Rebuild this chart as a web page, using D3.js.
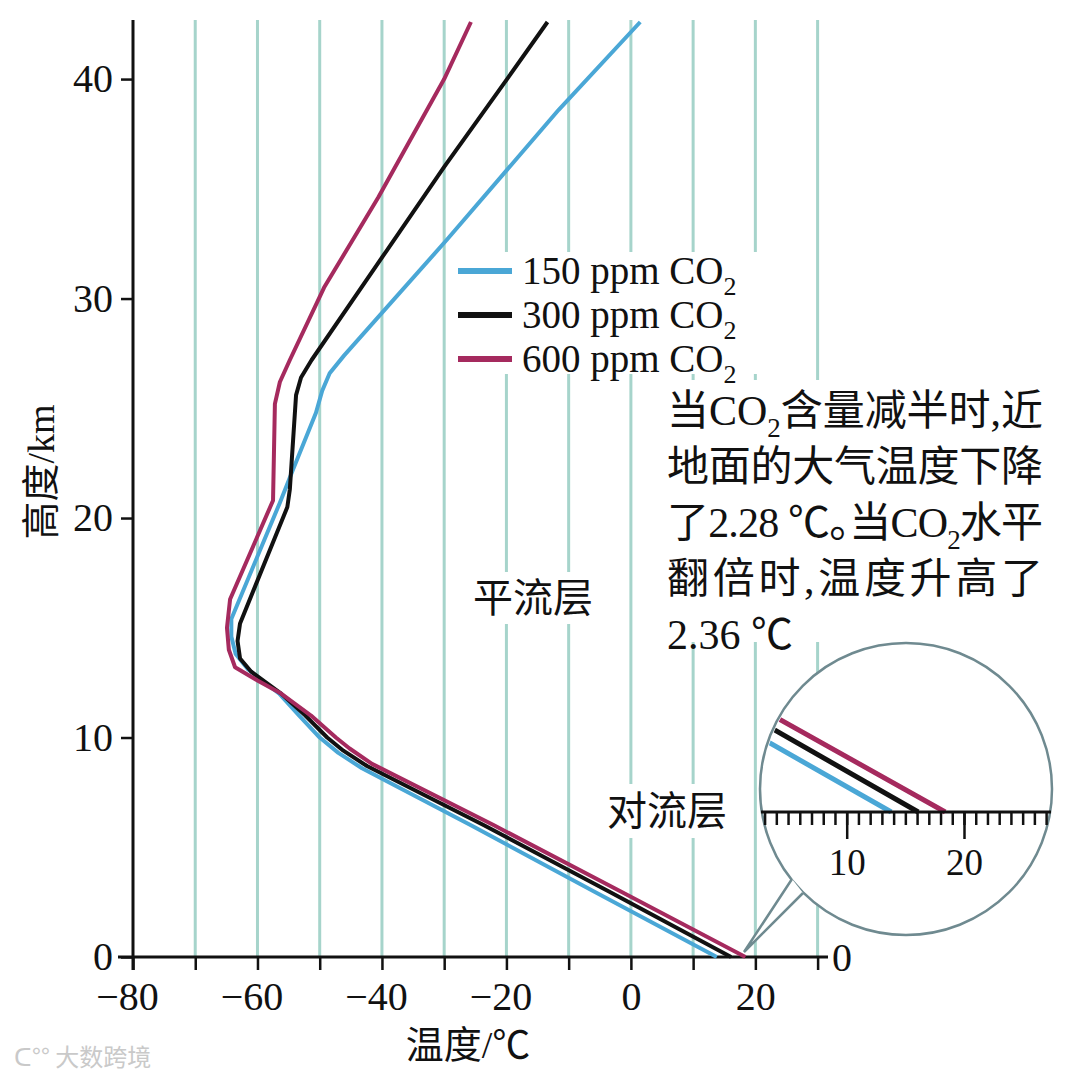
<!DOCTYPE html>
<html>
<head>
<meta charset="utf-8">
<script src="https://cdn.jsdelivr.net/npm/d3@7"></script>
<style>
    body { margin: 0; background: #fff; }
    svg { display: block; }
    .note { font-feature-settings: "halt"; }
</style>
</head>
<body>
<div id="chart"></div>
<script>
// altitude (km) and temperature (°C), one pair of arrays per CO2 level
const alt150 = [0, 3, 6, 8.6, 9.3, 10, 11, 12, 13.1, 13.8, 14.6, 15.4, 20.7, 22.2, 24.8, 25.8, 26.6, 27.4, 32.7, 38.6, 42.6];
const temp150 = [13.8, -6.0, -25.7, -43.2, -47.0, -50.0, -53.3, -56.5, -61.5, -63.5, -64.2, -64.2, -56.4, -54.3, -50.6, -49.6, -48.4, -46.1, -29.5, -11.6, 1.5];

const alt300 = [0, 3, 6, 8.7, 9.4, 10, 11, 12, 13, 13.6, 14.4, 15.2, 20.5, 21.3, 25.6, 26.4, 27.2, 32.2, 36, 40, 42.6];
const temp300 = [16.1, -3.6, -23.6, -42.4, -46.2, -48.8, -52.3, -56.2, -61.0, -62.8, -63.2, -62.8, -55.2, -54.8, -53.8, -53.0, -51.3, -39.2, -30.0, -19.9, -13.4];

const alt600 = [0, 3, 6, 8.8, 9.5, 10, 11, 12, 12.6, 13.2, 14.0, 15.0, 16.3, 20.8, 25.2, 26.2, 27.2, 30.5, 34.6, 40, 42.6];
const temp600 = [18.4, -1.7, -22.0, -41.6, -45.2, -47.4, -51.4, -56.2, -60.0, -63.6, -64.6, -64.9, -64.4, -57.5, -57.2, -56.4, -54.8, -49.3, -40.6, -30.0, -25.7];

const seriesNames = ["150 ppm CO", "300 ppm CO", "600 ppm CO"];
const seriesColors = ["#4aa7d6", "#111111", "#a52a5e"];

const xTicks = [-80, -70, -60, -50, -40, -30, -20, -10, 0, 10, 20, 30];
const xLabels = [-80, -60, -40, -20, 0, 20];
const yTicks = [0, 10, 20, 30, 40];
const insetMinor = d3.range(3, 28);
const insetLabels = [10, 20];

// annotation text, each line split into [text, isSubscript]
const noteLines = [
    [["当CO", false], ["2", true], ["含量减半时,近", false]],
    [["地面的大气温度下降", false]],
    [["了2.28 ℃。当CO", false], ["2", true], ["水平", false]],
    [["翻倍时,温度升高了", false]],
    [["2.36 ℃", false]]
];

const width = 1080;
const height = 1083;
const serif = "'Liberation Serif', 'Times New Roman', 'Noto Sans CJK SC', serif";

const svg = d3.select("#chart")
    .append("svg")
    .attr("width", width)
    .attr("height", height);

// scales of the main chart
const x = d3.scaleLinear().domain([-80, 30]).range([133, 817.6]);
const y = d3.scaleLinear().domain([0, 42.6]).range([957, 22]);

// vertical grid lines
svg.append("g")
    .selectAll("line")
    .data(xTicks.slice(1))
    .join("line")
    .attr("x1", d => x(d))
    .attr("x2", d => x(d))
    .attr("y1", 20)
    .attr("y2", 957)
    .attr("stroke", "#a6d4cb")
    .attr("stroke-width", 3);

// white boxes behind the labels
const boxes = [[452, 252, 350, 122], [658, 380, 400, 262], [466, 572, 136, 52], [600, 784, 136, 54]];
svg.append("g")
    .selectAll("rect")
    .data(boxes)
    .join("rect")
    .attr("x", d => d[0])
    .attr("y", d => d[1])
    .attr("width", d => d[2])
    .attr("height", d => d[3])
    .attr("fill", "#fff");

// axes
const xAxis = svg.append("g")
    .attr("transform", "translate(0,957)")
    .call(d3.axisBottom(x).tickValues(xTicks).tickSize(13).tickPadding(12)
        .tickFormat(d => xLabels.includes(d) ? (d < 0 ? "\u2212" + Math.abs(d) : d) : ""));
xAxis.select(".domain").remove();
xAxis.selectAll(".tick line").attr("stroke", "#111").attr("stroke-width", 2.5);
xAxis.selectAll("text")
    .attr("font-family", serif).attr("font-size", 40).attr("fill", "#111")
    .attr("dx", d => d < 0 ? -6 : 0);

svg.append("line")
    .attr("x1", 118).attr("x2", 828)
    .attr("y1", 957).attr("y2", 957)
    .attr("stroke", "#111").attr("stroke-width", 3);

const yAxis = svg.append("g")
    .attr("transform", "translate(133,0)")
    .call(d3.axisLeft(y).tickValues(yTicks).tickSize(12).tickPadding(8));
yAxis.select(".domain").remove();
yAxis.selectAll(".tick line").attr("stroke", "#111").attr("stroke-width", 2.5);
yAxis.selectAll("text").attr("font-family", serif).attr("font-size", 40).attr("fill", "#111");

svg.append("line")
    .attr("x1", 133).attr("x2", 133)
    .attr("y1", 20).attr("y2", 970)
    .attr("stroke", "#111").attr("stroke-width", 3);

// axis titles
svg.append("text")
    .attr("transform", "translate(54,472) rotate(-90)")
    .attr("text-anchor", "middle")
    .attr("font-family", serif)
    .attr("font-size", 38)
    .attr("fill", "#111")
    .text("高度/km");

svg.append("text")
    .attr("x", 468)
    .attr("y", 1058)
    .attr("text-anchor", "middle")
    .attr("font-family", serif)
    .attr("font-size", 38)
    .attr("fill", "#111")
    .text("温度/℃");

svg.append("text")
    .attr("x", 832)
    .attr("y", 971)
    .attr("font-family", serif)
    .attr("font-size", 40)
    .attr("fill", "#111")
    .text("0");

// the three profiles
const profiles = [
    { alt: alt150, temp: temp150 },
    { alt: alt300, temp: temp300 },
    { alt: alt600, temp: temp600 }
].map((s, i) => ({ name: seriesNames[i], color: seriesColors[i], points: s.alt.map((a, j) => [s.temp[j], a]) }));

const line = d3.line()
    .x(d => x(d[0]))
    .y(d => y(d[1]));

svg.append("g")
    .selectAll("path")
    .data(profiles)
    .join("path")
    .attr("d", d => line(d.points))
    .attr("fill", "none")
    .attr("stroke", d => d.color)
    .attr("stroke-width", 4)
    .attr("stroke-linejoin", "round");

// legend
const legend = svg.append("g")
    .selectAll("g")
    .data(profiles)
    .join("g")
    .attr("transform", (d, i) => `translate(458, ${271 + i * 44})`);

legend.append("line")
    .attr("x1", 0).attr("x2", 54)
    .attr("stroke", d => d.color)
    .attr("stroke-width", 6);

const legendText = legend.append("text")
    .attr("x", 64)
    .attr("y", 13)
    .attr("font-family", serif)
    .attr("font-size", 39)
    .attr("fill", "#111");
legendText.append("tspan").text(d => d.name);
legendText.append("tspan").attr("font-size", 26).attr("dy", 11).text("2");

// layer names
svg.append("text")
    .attr("x", 533).attr("y", 612)
    .attr("text-anchor", "middle")
    .attr("font-family", serif)
    .attr("font-size", 40)
    .attr("fill", "#111")
    .text("平流层");

svg.append("text")
    .attr("x", 667).attr("y", 825)
    .attr("text-anchor", "middle")
    .attr("font-family", serif)
    .attr("font-size", 40)
    .attr("fill", "#111")
    .text("对流层");

// annotation
const note = svg.append("g")
    .selectAll("text")
    .data(noteLines)
    .join("text")
    .attr("class", "note")
    .attr("x", 667)
    .attr("y", (d, i) => 425 + i * 56)
    .attr("font-family", serif)
    .attr("font-size", 42)
    .attr("fill", "#111")
    .attr("textLength", (d, i) => i < 4 ? 376 : null)
    .attr("lengthAdjust", "spacing");

note.selectAll("tspan")
    .data(d => d)
    .join("tspan")
    .attr("font-size", d => d[1] ? 27 : 42)
    .attr("dy", (d, i, nodes) => {
        if (d[1]) return 12;
        return i > 0 && d3.select(nodes[i - 1]).datum()[1] ? -12 : 0;
    })
    .text(d => d[0]);

// magnifier circle with its tail
const cx = 906, cy = 789, r = 146;
svg.append("circle")
    .attr("cx", cx).attr("cy", cy).attr("r", r)
    .attr("fill", "#fff")
    .attr("stroke", "#6f8a90")
    .attr("stroke-width", 2.5);

svg.append("path")
    .attr("d", "M792,879 L744,952 L803,893 Z")
    .attr("fill", "#fff")
    .attr("stroke", "none");

svg.append("path")
    .attr("d", "M792,879 L744,952 L803,893")
    .attr("fill", "none")
    .attr("stroke", "#6f8a90")
    .attr("stroke-width", 2.5);

// zoomed view of the surface temperatures
const xi = d3.scaleLinear().domain([10, 20]).range([846.7, 964]);
const yi = d3.scaleLinear().domain([0, 1]).range([812, 768]);

svg.append("clipPath")
    .attr("id", "inset-clip")
    .append("circle")
    .attr("cx", cx).attr("cy", cy).attr("r", r - 2);

const insetLine = d3.line()
    .x(d => xi(d[0]))
    .y(d => yi(d[1]));

svg.append("g")
    .attr("clip-path", "url(#inset-clip)")
    .selectAll("path")
    .data(profiles)
    .join("path")
    .attr("d", d => insetLine(d.points.slice(0, 3)))
    .attr("fill", "none")
    .attr("stroke", d => d.color)
    .attr("stroke-width", 5);

svg.append("line")
    .attr("x1", 761).attr("x2", 1051)
    .attr("y1", 812).attr("y2", 812)
    .attr("stroke", "#111").attr("stroke-width", 3);

const insetMinorAxis = svg.append("g")
    .attr("transform", "translate(0,812)")
    .call(d3.axisBottom(xi).tickValues(insetMinor).tickSize(13).tickFormat(""));
insetMinorAxis.select(".domain").remove();
insetMinorAxis.selectAll(".tick line").attr("stroke", "#111").attr("stroke-width", 2.5);

const insetMajorAxis = svg.append("g")
    .attr("transform", "translate(0,812)")
    .call(d3.axisBottom(xi).tickValues(insetLabels).tickSize(27).tickPadding(10));
insetMajorAxis.select(".domain").remove();
insetMajorAxis.selectAll(".tick line").attr("stroke", "#111").attr("stroke-width", 2.5);
insetMajorAxis.selectAll("text").attr("font-family", serif).attr("font-size", 37).attr("fill", "#111");

// watermark
svg.append("text")
    .attr("x", 14).attr("y", 1066)
    .attr("font-family", "'Noto Sans CJK SC', sans-serif")
    .attr("font-size", 24)
    .attr("fill", "#c9c9c9")
    .text("ᑕ°° 大数跨境");
</script>
</body>
</html>
